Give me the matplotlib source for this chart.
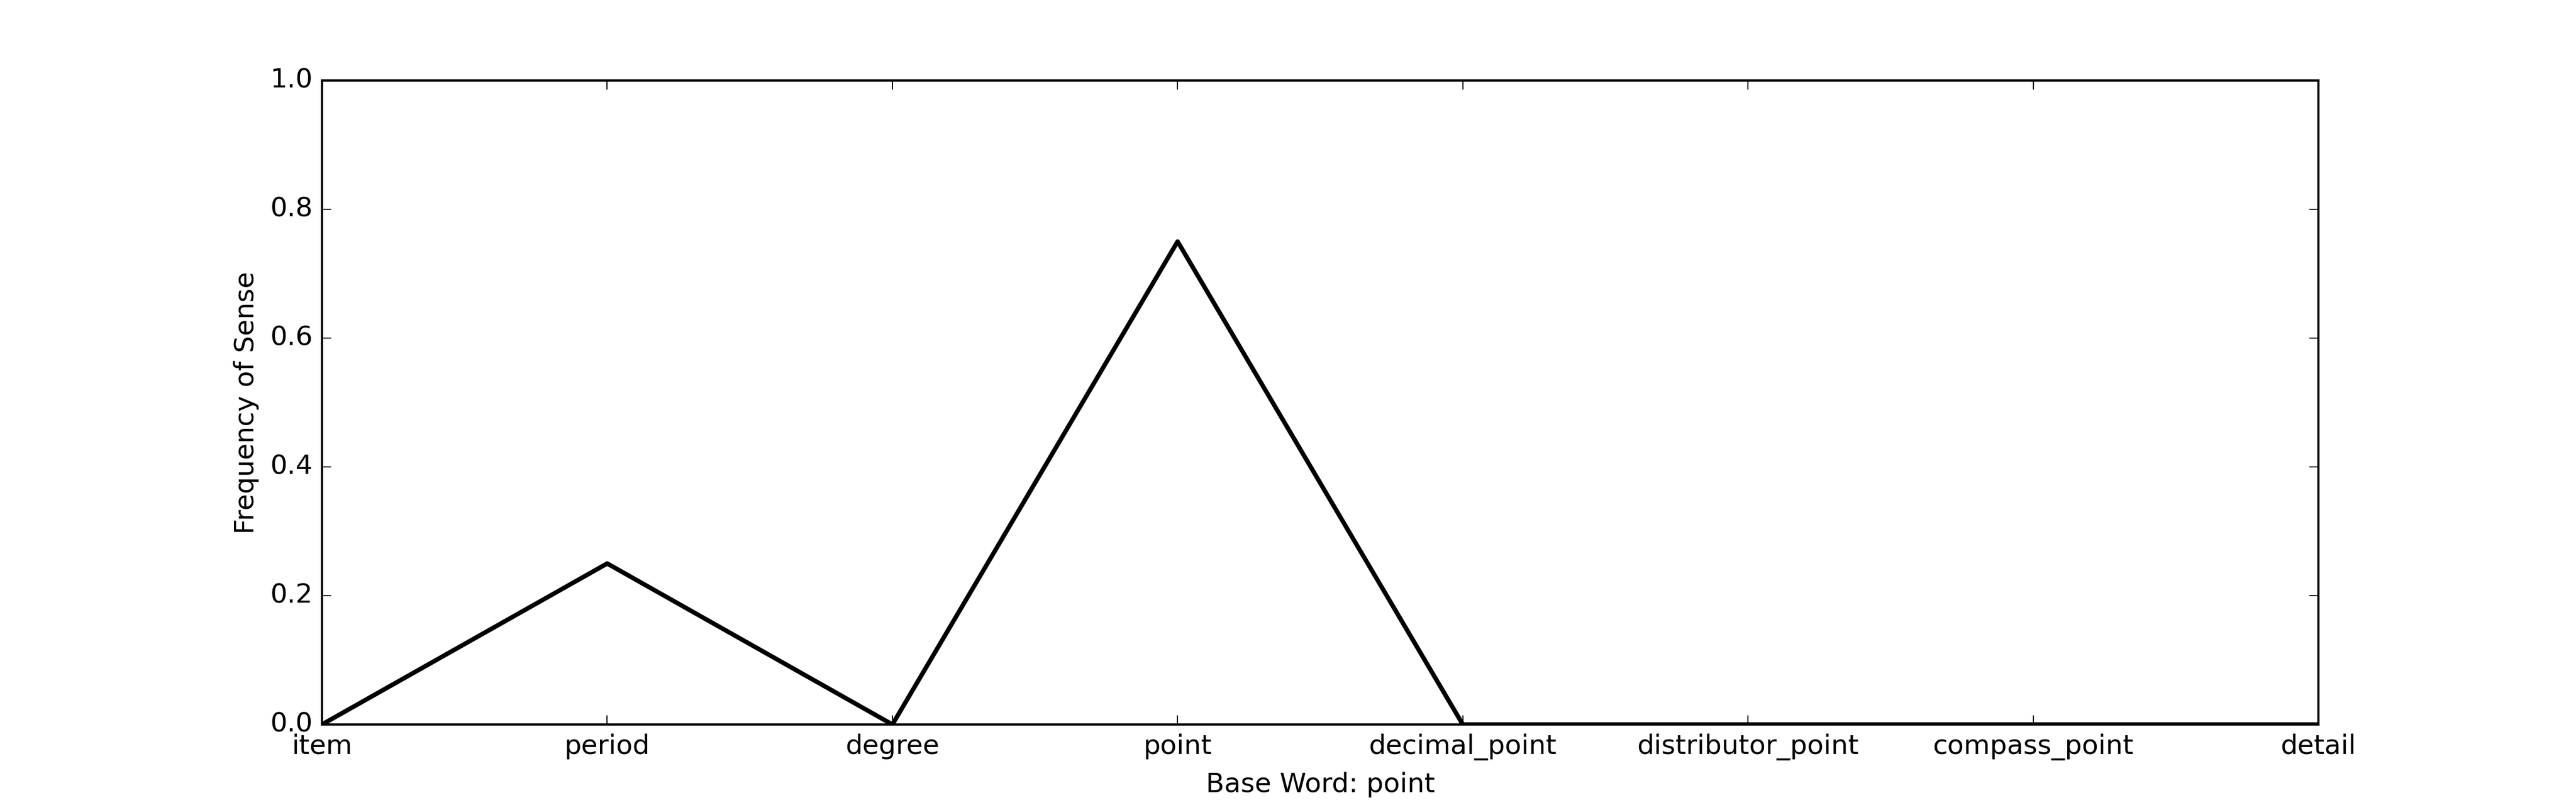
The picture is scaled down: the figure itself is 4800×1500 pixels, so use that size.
#!/usr/bin/env python3
"""Sense frequency line chart for the base word 'point'."""
import matplotlib

matplotlib.use("Agg")
import matplotlib.pyplot as plt
import numpy as np

plt.style.use("classic")

SENSES = ["item", "period", "degree", "point", "decimal_point",
          "distributor_point", "compass_point", "detail"]
FREQ = [0.0, 0.25, 0.0, 0.75, 0.0, 0.0, 0.0, 0.0]
BASE_WORD = "point"


def main() -> int:
    fig, ax = plt.subplots(figsize=(16, 5), dpi=300)
    fig.patch.set_facecolor("white")
    x = np.arange(len(SENSES))
    ax.plot(x, FREQ, color="black", linewidth=2)
    ax.set_xticks(x)
    ax.set_xticklabels(SENSES)
    ax.set_xlim(0, len(SENSES) - 1)
    ax.set_ylim(0, 1.0)
    ax.set_xlabel(f"Base Word: {BASE_WORD}")
    ax.set_ylabel("Frequency of Sense")
    fig.savefig("out.png", dpi=300, facecolor="white")
    plt.close(fig)
    return 0


if __name__ == "__main__":
    raise SystemExit(main())
